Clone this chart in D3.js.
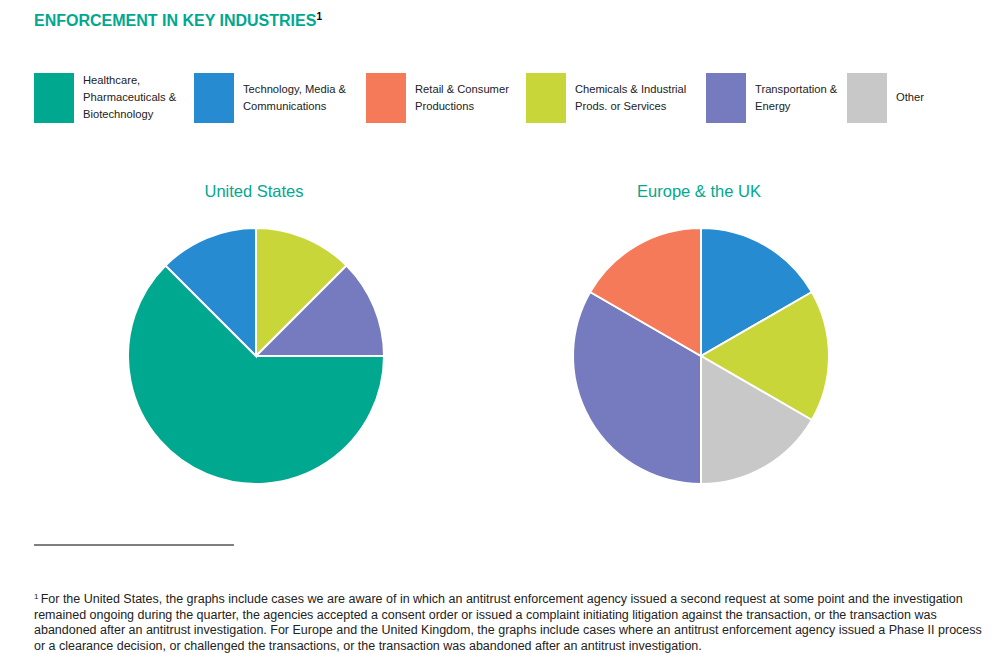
<!DOCTYPE html>
<html><head><meta charset="utf-8">
<script src="https://cdn.jsdelivr.net/npm/d3@7"></script>
<style>body{margin:0;background:#fff;font-family:"Liberation Sans",Arial,sans-serif}</style>
</head><body><div id="chart"></div>
<script>
const categories = ["Healthcare, Pharmaceuticals & Biotechnology","Technology, Media & Communications","Retail & Consumer Productions","Chemicals & Industrial Prods. or Services","Transportation & Energy","Other"]
const legendLines = [["Healthcare,","Pharmaceuticals &","Biotechnology"],["Technology, Media &","Communications"],["Retail & Consumer","Productions"],["Chemicals & Industrial","Prods. or Services"],["Transportation &","Energy"],["Other"]]
const colors = ["#00a88f","#268bd0","#f47a5a","#c9d63a","#767bbf","#c8c8c8"]
// slices in clockwise order from 12 o'clock: [category index, value]
const usSlices = [[3,1],[4,1],[0,5],[1,1]]
const euSlices = [[1,1],[3,1],[5,1],[4,2],[2,1]]

const svg = d3.select("#chart").append("svg").attr("width",1002).attr("height",653)
svg.append("text").attr("x",34).attr("y",26).attr("fill","#00a88f")
  .style("font-weight","bold").style("font-size","16px")
  .text("ENFORCEMENT IN KEY INDUSTRIES")
  .append("tspan").attr("dy",-6).style("font-size","10px").attr("fill","#000").text("1")

const legendX = [34,194,366,526,706,847]
legendLines.forEach((lines,i)=>{
  const g = svg.append("g").attr("transform",`translate(${legendX[i]},73)`)
  g.append("rect").attr("width",40).attr("height",50).attr("fill",colors[i])
  const y0 = 25 - (lines.length-1)*8.5 + 3
  lines.forEach((l,j)=>g.append("text").attr("x",49).attr("y",y0+j*17)
    .style("font-size","11.2px").attr("fill","#222").text(l))
})

const pie = d3.pie().sort(null).value(d=>d[1])
const arc = d3.arc().innerRadius(0).outerRadius(128)
function drawPie(cx,title,data){
  svg.append("text").attr("x",cx-2).attr("y",197).attr("text-anchor","middle")
    .attr("fill","#00a88f").style("font-size","16.5px").text(title)
  svg.append("g").attr("transform",`translate(${cx},356)`)
    .selectAll("path").data(pie(data)).join("path")
    .attr("d",arc).attr("fill",d=>colors[d.data[0]])
    .attr("stroke","#fff").attr("stroke-width",2)
}
drawPie(256,"United States",usSlices)
drawPie(701,"Europe & the UK",euSlices)

svg.append("line").attr("x1",34).attr("x2",234).attr("y1",545).attr("y2",545).attr("stroke","#000")
const foot = ["For the United States, the graphs include cases we are aware of in which an antitrust enforcement agency issued a second request at some point and the investigation",
"remained ongoing during the quarter, the agencies accepted a consent order or issued a complaint initiating litigation against the transaction, or the transaction was",
"abandoned after an antitrust investigation. For Europe and the United Kingdom, the graphs include cases where an antitrust enforcement agency issued a Phase II process",
"or a clearance decision, or challenged the transactions, or the transaction was abandoned after an antitrust investigation."]
foot.forEach((l,i)=>{
  const t = svg.append("text").attr("x",34).attr("y",603+i*15.5).style("font-size","12.5px").attr("fill","#222")
  if(i===0){ t.append("tspan").attr("dy",-4).style("font-size","8px").text("1 "); t.append("tspan").attr("dy",4).text(l) }
  else t.text(l)
})
</script></body></html>
